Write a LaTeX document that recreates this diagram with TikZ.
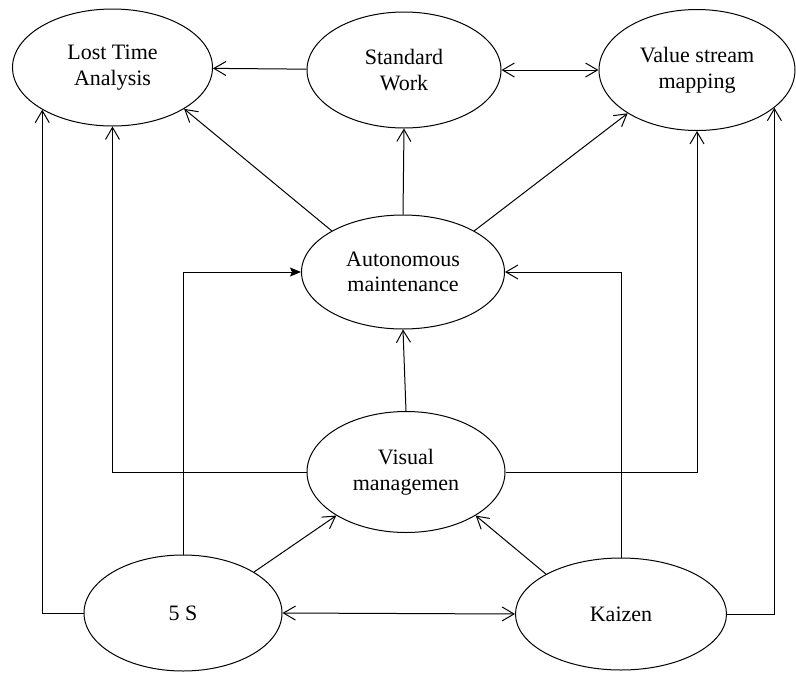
\documentclass[tikz,border=0pt]{standalone}
\usepackage{fontspec}
\setmainfont{Liberation Serif}
\usetikzlibrary{shapes.geometric,arrows.meta}

\begin{document}
\begin{tikzpicture}[x=1pt,y=-1pt,
  concept/.style={draw,line width=1pt,ellipse,inner sep=0pt,align=center,
    font=\fontsize{22}{25.5}\selectfont},
  link/.style={line width=1pt,-{Straight Barb[length=12pt,width=14pt,line width=1pt]}},
  twoway/.style={line width=1pt,{Straight Barb[length=12pt,width=14pt,line width=1pt]}-{Straight Barb[length=12pt,width=14pt,line width=1pt]}},
  solidlink/.style={line width=1pt,-{Stealth[length=11pt,width=9pt,inset=2pt]}}]

\useasboundingbox (0,0) rectangle (796,673);

% concepts
\node[concept,minimum width=200pt,minimum height=117pt] (lta) at (112.5,67.5) {Lost Time\\Analysis};
\node[concept,minimum width=194pt,minimum height=116pt] (sw)  at (404,70)   {Standard\\Work};
\node[concept,minimum width=196pt,minimum height=121pt] (vsm) at (697,70)   {Value stream\\mapping};
\node[concept,minimum width=203pt,minimum height=114pt] (am)  at (403,272)  {Autonomous\\maintenance};
\node[concept,minimum width=198pt,minimum height=121pt] (vm)  at (406,472)  {Visual\\managemen};
\node[concept,minimum width=198pt,minimum height=116pt] (fives) at (183,613) {5 S};
\node[concept,minimum width=211pt,minimum height=112pt] (kz)  at (621,614)  {Kaizen};

% top row
\draw[link] (sw) -- (lta);
\draw[twoway] (sw.east) -- (vsm.west);

% from autonomous maintenance
\draw[link] (am.north) -- (sw.south);
\draw[link] (am.150) -- (lta.-30);
\draw[link] (am.30) -- (vsm.212);

% from visual management
\draw[link] (vm.north) -- (am.south);
\draw[link] (vm.west) -| (lta.south);
\draw[link] (vm.east) -| (vsm.south);

% from 5 S
\draw[solidlink] (fives.north) |- (am.west);
\draw[link] (fives.west) -| (lta.-149);
\draw[link] (fives.30) -- (vm.212);
\draw[twoway] (fives.east) -- (kz.west);

% from Kaizen
\draw[link] (kz.north) |- (am.east);
\draw[link] (kz.east) -| (vsm.-26);
\draw[link] (kz.152) -- (vm.-32);

\end{tikzpicture}
\end{document}
